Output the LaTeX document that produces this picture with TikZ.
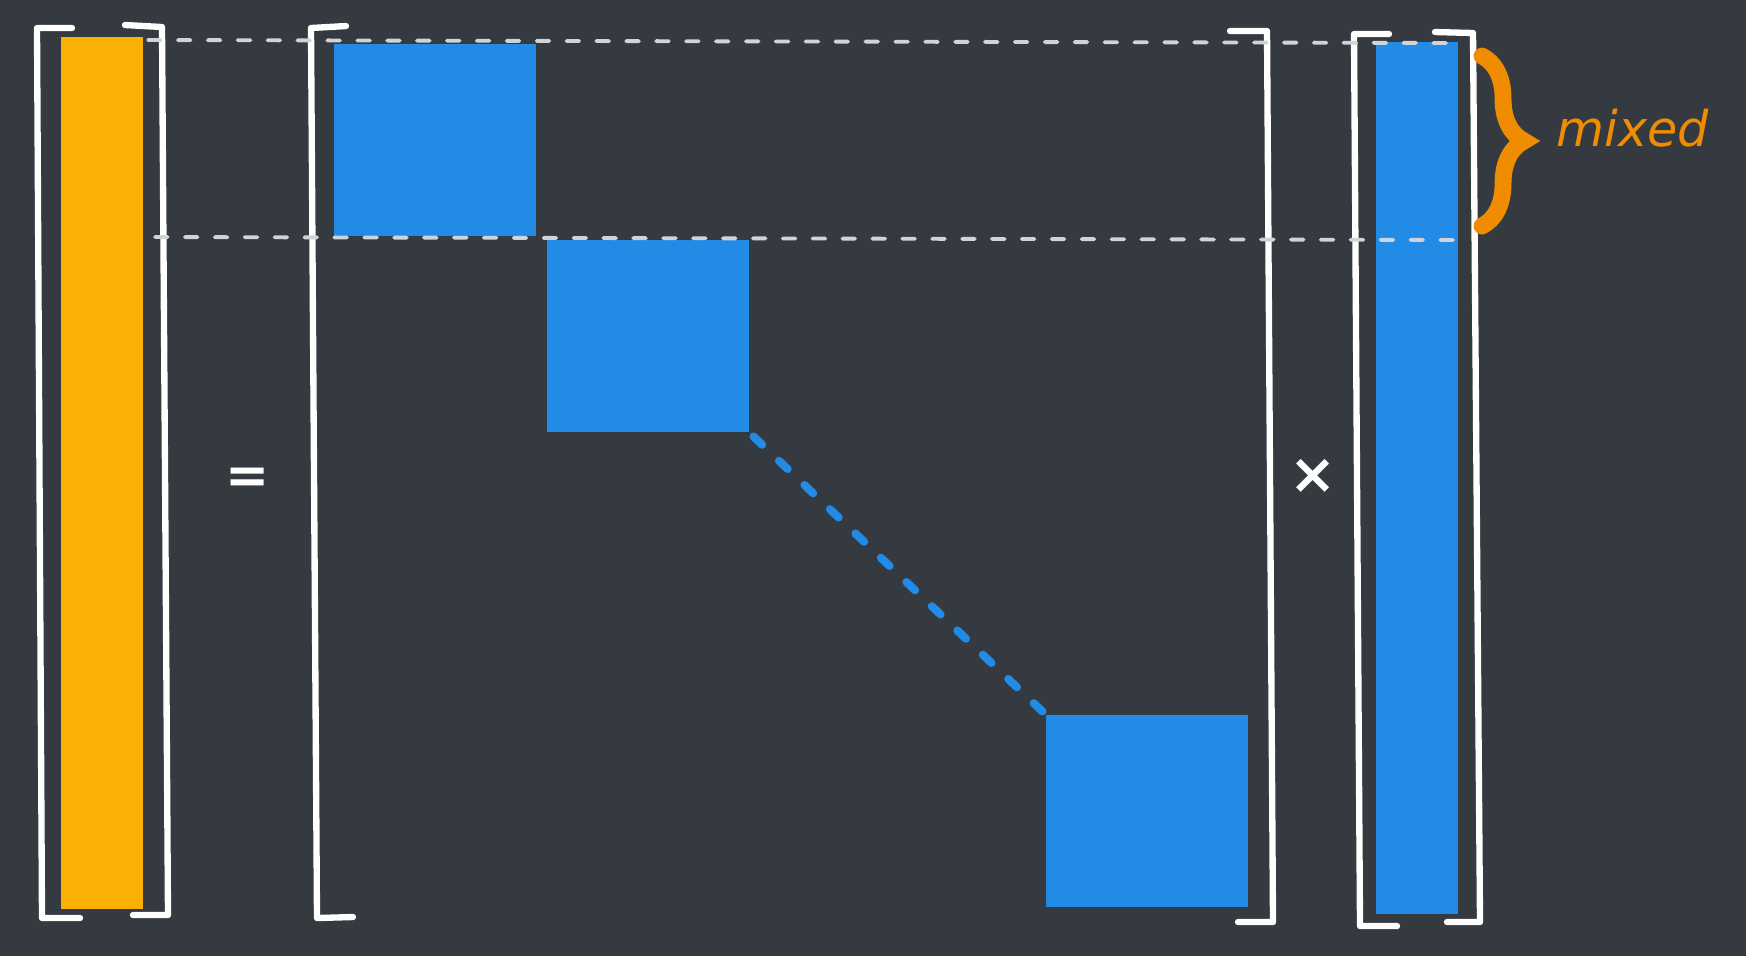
\documentclass[tikz,border=0pt]{standalone}
\usepackage{fontspec}
\setmainfont{DejaVu Sans}
\usetikzlibrary{decorations.pathreplacing}
\definecolor{board}{HTML}{343A40}
\definecolor{vecyellow}{HTML}{FAB005}
\definecolor{blkblue}{HTML}{228BE6}
\definecolor{braceorange}{HTML}{F08C00}
\definecolor{guidegrey}{HTML}{CED4DA}
\tikzset{
  bracket/.style={draw=white, line width=1.8pt, line cap=round, line join=round},
  guide/.style={draw=guidegrey, line width=1.1pt, line cap=round, dash pattern=on 3.6pt off 4.9pt},
  blk/.style={fill=blkblue, draw=none, inner sep=0pt, anchor=north west},
  colvec/.style={draw=none, inner sep=0pt, anchor=north west, minimum width=0.82cm},
}
\begin{document}
\begin{tikzpicture}[x=0.01cm, y=-0.01cm]
\fill[board] (0,0) rectangle (1746,956);
\useasboundingbox (0,0) rectangle (1746,956);
% column vectors and blocks
\node[colvec, fill=vecyellow, minimum height=8.72cm] (lhs) at (60,36) {};
\node[blk, minimum width=2.02cm, minimum height=1.92cm] (blka) at (333,43) {};
\node[blk, minimum width=2.02cm, minimum height=1.92cm] (blkb) at (546,239) {};
\node[blk, minimum width=2.02cm, minimum height=1.92cm] (blkc) at (1045,714) {};
\node[colvec, fill=blkblue, minimum height=8.72cm] (rhs) at (1375,41) {};
\draw[blkblue, line width=2.3pt, line cap=round, dash pattern=on 3.4pt off 6.6pt]
  ([shift={(4,4)}]blkb.south east) -- ([shift={(-2,-2)}]blkc.north west);
% brackets
\draw[bracket] (72,28) -- (37,28) -- (42,918) -- (80,918);
\draw[bracket] (125,25) -- (162,27) -- (168,915) -- (133,915);
\draw[bracket] (346,26) -- (311,28) -- (317,918) -- (353,917);
\draw[bracket] (1230,31) -- (1267,31) -- (1273,922) -- (1238,922);
\draw[bracket] (1389,34) -- (1354,34) -- (1360,926) -- (1397,926);
\draw[bracket] (1435,32) -- (1473,33) -- (1480,922) -- (1447,922);
% guide lines
\coordinate (gtl) at (148,40);
\coordinate (gtr) at (1462,43);
\coordinate (gbl) at (155,237);
\coordinate (gbr) at (1465,240);
\draw[guide] (gtl) -- (gtr);
\draw[guide] (gbl) -- (gbr);
% operators
\node[text=white, font=\fontsize{15}{15}\selectfont\bfseries] (eq) at (248,481) {=};
\node[text=white, font=\fontsize{16}{16}\selectfont\bfseries] (times) at (1313,476) {×};
% brace and label
\coordinate (bt) at (1482,56);
\coordinate (bb) at (1482,226);
\draw[braceorange, line width=4.8pt, line cap=round, decorate,
  decoration={brace, amplitude=0.42cm, aspect=0.5}] (bt) -- (bb);
\node[text=braceorange, anchor=base west, inner sep=0pt,
  font=\fontsize{14}{14}\selectfont\itshape] (mixed) at (1556,146) {mixed};
\end{tikzpicture}
\end{document}
